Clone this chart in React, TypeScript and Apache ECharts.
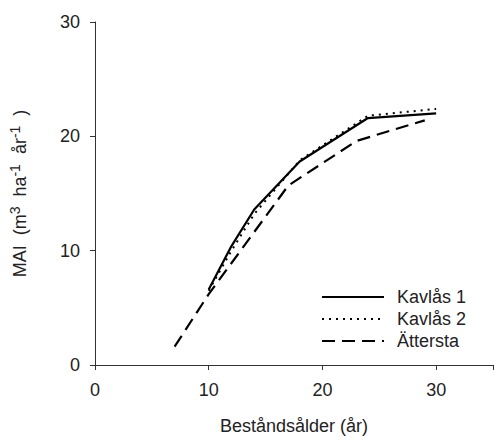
import React, { useEffect, useRef } from "react";
import * as echarts from "echarts";

const seriesNames = ["Kavlås 1", "Kavlås 2", "Ättersta"];
const kavlas1: [number, number][] = [[10, 6.6], [12, 10.4], [14, 13.6], [18, 17.8], [24, 21.6], [30, 22.0]];
const kavlas2: [number, number][] = [[10, 6.5], [12, 10.0], [14, 13.2], [18, 17.9], [24, 21.8], [30, 22.4]];
const attersta: [number, number][] = [[7, 1.6], [10, 6.2], [17, 15.7], [23, 19.6], [29, 21.4]];
const xTicks = [0, 10, 20, 30];
const yTicks = [0, 10, 20, 30];

const FONT = "Liberation Sans, Arial, sans-serif";

export default function App() {
  const ref = useRef<HTMLDivElement>(null);
  useEffect(() => {
    if (!ref.current) return;
    const chart = echarts.init(ref.current, undefined, { renderer: "svg" });
    chart.setOption({
      animation: false,
      backgroundColor: "#fff",
      textStyle: { fontFamily: FONT },
      grid: { left: 92.5, top: 22, right: -1, bottom: 73, containLabel: false },
      legend: {
        left: 316,
        top: 283,
        orient: "vertical",
        itemWidth: 62,
        itemHeight: 14,
        itemGap: 4,
        itemStyle: { opacity: 0 },
        textStyle: { fontSize: 18, lineHeight: 18, color: "#222", fontFamily: FONT, padding: [0, 0, 0, 8] },
        data: seriesNames,
      },
      xAxis: [
        {
          type: "value",
          min: 0,
          max: 35,
          interval: 10,
          name: "Beståndsålder (år)",
          nameLocation: "middle",
          nameGap: 52,
          nameTextStyle: { fontSize: 18, color: "#222", fontFamily: FONT },
          axisLine: { show: true, onZero: false, lineStyle: { color: "#333", width: 1 } },
          axisTick: { show: true, length: 5, lineStyle: { color: "#333" } },
          axisLabel: {
            fontSize: 18,
            color: "#222",
            margin: 16,
            fontFamily: FONT,
            formatter: (v: number) => (xTicks.includes(v) ? String(v) : ""),
          },
          splitLine: { show: false },
        },
        {
          type: "value",
          position: "top",
          min: 0,
          max: 35,
          interval: 10,
          axisLine: { show: true, lineStyle: { color: "#333", width: 1 } },
          axisTick: { show: false },
          axisLabel: { show: false },
          splitLine: { show: false },
        },
      ],
      yAxis: {
        type: "value",
        min: 0,
        max: 30,
        interval: 10,
        name: "MAI  (m{sup|3}  ha{sup|-1}  år{sup|-1}  )",
        nameLocation: "middle",
        nameRotate: 90,
        nameGap: 64,
        nameTextStyle: {
          fontSize: 18,
          color: "#222",
          fontFamily: FONT,
          rich: {
            sup: { fontSize: 14, color: "#222", fontFamily: FONT, verticalAlign: "top", padding: [0, 0, 9, 0] },
          },
        },
        axisLine: { show: true, onZero: false, lineStyle: { color: "#333", width: 1 } },
        axisTick: { show: true, length: 5, lineStyle: { color: "#333" } },
        axisLabel: {
          fontSize: 18,
          color: "#222",
          margin: 15,
          fontFamily: FONT,
          formatter: (v: number) => (yTicks.includes(v) ? String(v) : ""),
        },
        splitLine: { show: false },
      },
      series: [
        {
          name: seriesNames[0],
          type: "line",
          data: kavlas1,
          symbol: "none",
          color: "#000",
          lineStyle: { color: "#000", type: "solid", width: 2.2 },
        },
        {
          name: seriesNames[1],
          type: "line",
          data: kavlas2,
          symbol: "none",
          color: "#000",
          lineStyle: { color: "#000", type: [2, 5], width: 2 },
        },
        {
          name: seriesNames[2],
          type: "line",
          data: attersta,
          symbol: "none",
          color: "#000",
          lineStyle: { color: "#000", type: [13, 7], width: 2.2 },
        },
      ],
    });
    return () => chart.dispose();
  }, []);
  return (
    <div
      ref={ref}
      style={{ position: "absolute", left: 0, top: 0, width: 496, height: 440, background: "#fff" }}
    />
  );
}
